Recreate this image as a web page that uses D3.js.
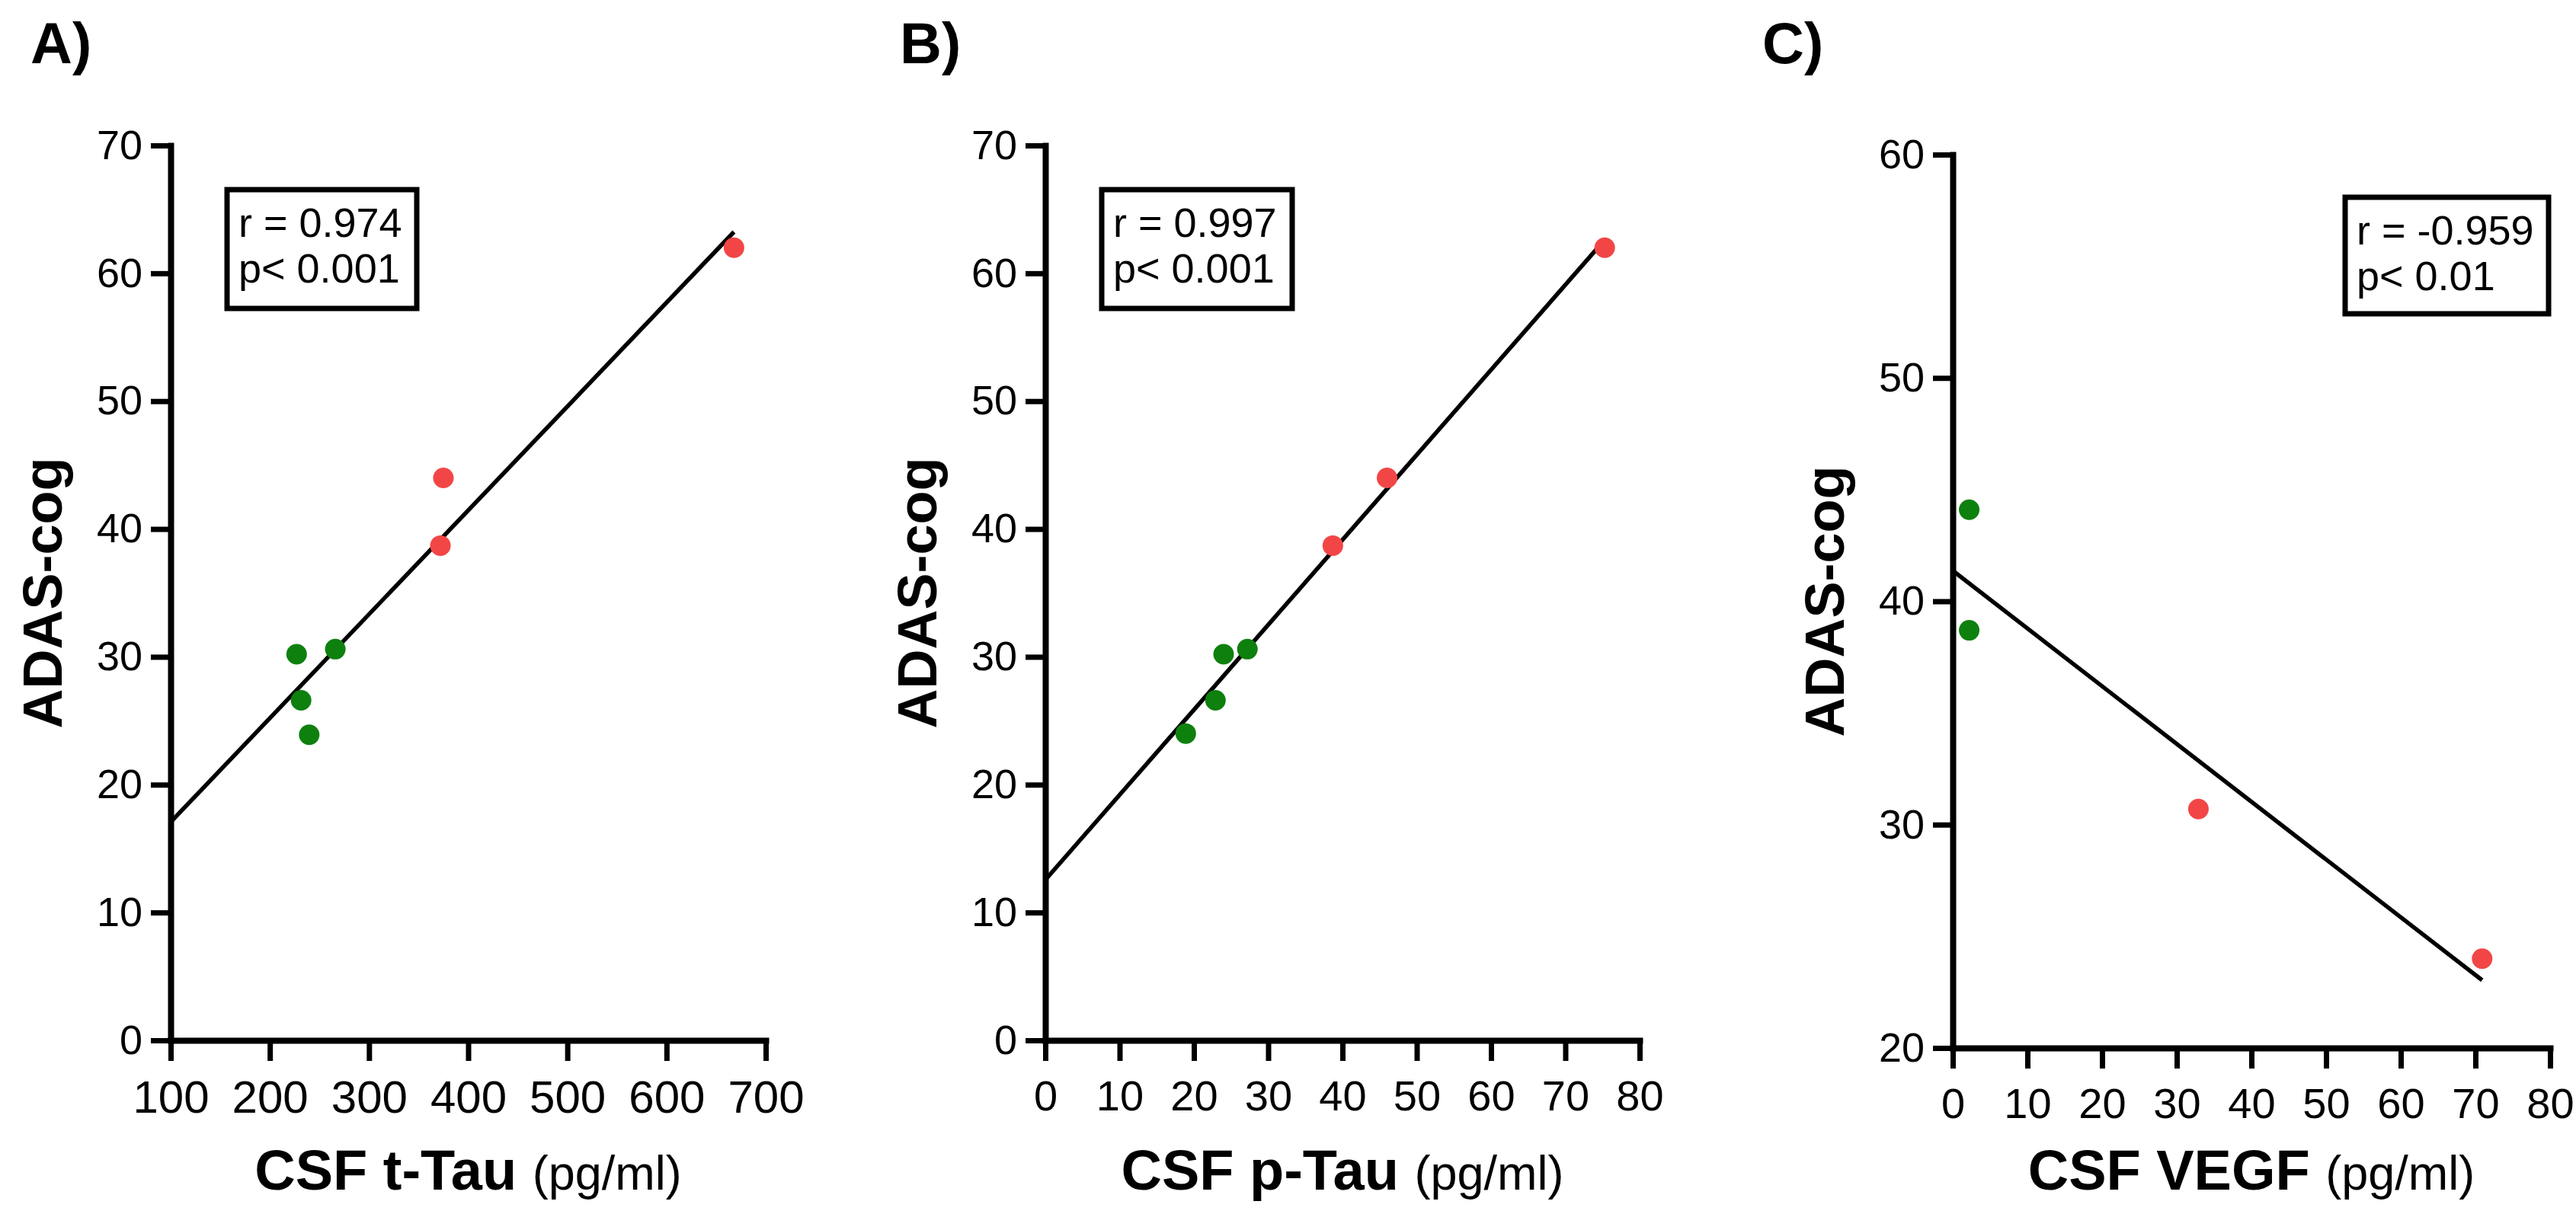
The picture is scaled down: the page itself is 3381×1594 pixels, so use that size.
<!doctype html>
<html>
  <head>
    <meta charset="utf-8">
    <title>ADAS-cog correlations</title>
    <script src="https://cdnjs.cloudflare.com/ajax/libs/d3/7.8.5/d3.min.js"></script>
    <style>
      html, body { margin: 0; padding: 0; background: #fff; }
      svg { display: block; font-family: 'Liberation Sans', Arial, sans-serif; }
    </style>
  </head>
  <body>
    <div id="chart"></div>

    <script>
      // labels
      const panelLetters = ['A)', 'B)', 'C)'];
      const xTitleBold = ['CSF t-Tau', 'CSF p-Tau', 'CSF VEGF'];
      const xTitleUnit = '(pg/ml)';
      const yTitle = 'ADAS-cog';
      const statsText = [
        ['r = 0.974', 'p< 0.001'],
        ['r = 0.997', 'p< 0.001'],
        ['r = -0.959', 'p< 0.01']
      ];

      // tick labels
      const xTicksTau = [100, 200, 300, 400, 500, 600, 700];
      const xTicksPg = [0, 10, 20, 30, 40, 50, 60, 70, 80];
      const yTicksAB = [0, 10, 20, 30, 40, 50, 60, 70];
      const yTicksC = [20, 30, 40, 50, 60];

      // A) CSF t-Tau vs ADAS-cog
      const tTauRed = [668, 375, 372];
      const tTauRedScore = [62, 44, 38.7];
      const tTauGreen = [227, 266, 231.5, 239.7];
      const tTauGreenScore = [30.2, 30.6, 26.6, 23.9];

      // B) CSF p-Tau vs ADAS-cog
      const pTauRed = [75.3, 46, 38.7];
      const pTauRedScore = [62, 44, 38.7];
      const pTauGreen = [24, 27.2, 22.9, 18.9];
      const pTauGreenScore = [30.2, 30.6, 26.6, 24];

      // C) CSF VEGF vs ADAS-cog
      const vegfGreen = [2.2, 2.2];
      const vegfGreenScore = [44.1, 38.7];
      const vegfRed = [32.9, 70.9];
      const vegfRedScore = [30.7, 24.0];

      const RED = '#f24646', GREEN = '#0e800e';

      // layout of the three panels (pixels)
      const panels = [
        { xDom: [100, 700], yDom: [0, 70], xTicks: xTicksTau, yTicks: yTicksAB,
          xr: [224, 1005], yr: [1366, 191], letterX: 40, xFont: 60,
          red: [tTauRed, tTauRedScore], green: [tTauGreen, tTauGreenScore],
          box: { x: 298, y: 249, w: 249, h: 156 } },
        { xDom: [0, 80], yDom: [0, 70], xTicks: xTicksPg, yTicks: yTicksAB,
          xr: [1372, 2152], yr: [1366, 191], letterX: 1181, xFont: 56,
          red: [pTauRed, pTauRedScore], green: [pTauGreen, pTauGreenScore],
          box: { x: 1446, y: 249, w: 250, h: 156 } },
        { xDom: [0, 80], yDom: [20, 60], xTicks: xTicksPg, yTicks: yTicksC,
          xr: [2563, 3347], yr: [1376, 203], letterX: 2313, xFont: 56,
          red: [vegfRed, vegfRedScore], green: [vegfGreen, vegfGreenScore],
          box: { x: 3078, y: 259, w: 267, h: 153 } }
      ];

      // least squares fit
      function regress(xs, ys) {
        const mx = d3.mean(xs), my = d3.mean(ys);
        const sxy = d3.sum(xs, (d, i) => (d - mx) * (ys[i] - my));
        const sxx = d3.sum(xs, d => (d - mx) * (d - mx));
        const slope = sxy / sxx;
        return { slope, intercept: my - slope * mx };
      }

      const svg = d3.select('#chart')
        .append('svg')
        .attr('width', 3381)
        .attr('height', 1594);

      panels.forEach((p, k) => {
        const g = svg.append('g');
        const x = d3.scaleLinear().domain(p.xDom).range(p.xr);
        const y = d3.scaleLinear().domain(p.yDom).range(p.yr);

        // panel letter
        g.append('text')
          .attr('x', p.letterX).attr('y', 83)
          .attr('font-size', 76).attr('font-weight', 'bold')
          .text(panelLetters[k]);

        // axes
        const xAxis = g.append('g')
          .attr('transform', `translate(0,${p.yr[0]})`)
          .call(d3.axisBottom(x).tickValues(p.xTicks).tickSize(27).tickSizeOuter(0).tickPadding(25));
        const yAxis = g.append('g')
          .attr('transform', `translate(${p.xr[0]},0)`)
          .call(d3.axisLeft(y).tickValues(p.yTicks).tickSize(26).tickSizeOuter(0).tickPadding(11));

        [xAxis, yAxis].forEach(a => {
          a.attr('font-family', null);
          a.select('.domain').attr('stroke', '#000').attr('stroke-width', 8).attr('stroke-linecap', 'square');
          a.selectAll('.tick line').attr('stroke', '#000').attr('stroke-width', 7);
          a.selectAll('.tick text').attr('fill', '#000');
        });
        xAxis.attr('font-size', p.xFont);
        yAxis.attr('font-size', 54);

        // axis titles
        const xt = g.append('text')
          .attr('x', (p.xr[0] + p.xr[1]) / 2)
          .attr('y', 1562)
          .attr('text-anchor', 'middle');
        xt.append('tspan').attr('font-size', 74).attr('font-weight', 'bold').text(xTitleBold[k] + ' ');
        xt.append('tspan').attr('font-size', 63).text(xTitleUnit);

        g.append('text')
          .attr('transform', `translate(${p.xr[0] - 143},${(p.yr[0] + p.yr[1]) / 2}) rotate(-90)`)
          .attr('text-anchor', 'middle')
          .attr('font-size', 72).attr('font-weight', 'bold')
          .text(yTitle);

        // regression line over all points
        const xs = p.red[0].concat(p.green[0]);
        const ys = p.red[1].concat(p.green[1]);
        const fit = regress(xs, ys);
        const x0 = p.xDom[0], x1 = d3.max(xs);
        g.append('line')
          .attr('x1', x(x0)).attr('y1', y(fit.intercept + fit.slope * x0))
          .attr('x2', x(x1)).attr('y2', y(fit.intercept + fit.slope * x1))
          .attr('stroke', '#000').attr('stroke-width', 5.5);

        // points
        const pts = p.red[0].map((v, i) => ({ x: v, y: p.red[1][i], c: RED }))
          .concat(p.green[0].map((v, i) => ({ x: v, y: p.green[1][i], c: GREEN })));
        g.selectAll('circle.pt')
          .data(pts)
          .join('circle')
          .attr('class', 'pt')
          .attr('cx', d => x(d.x))
          .attr('cy', d => y(d.y))
          .attr('r', 13.5)
          .attr('fill', d => d.c);

        // stats box
        g.append('rect')
          .attr('x', p.box.x).attr('y', p.box.y)
          .attr('width', p.box.w).attr('height', p.box.h)
          .attr('fill', 'none').attr('stroke', '#000').attr('stroke-width', 7);
        g.append('text')
          .attr('x', p.box.x + 15)
          .attr('y', p.box.y + 62)
          .attr('font-size', 54)
          .selectAll('tspan')
          .data(statsText[k])
          .join('tspan')
            .attr('x', p.box.x + 15)
            .attr('dy', (d, i) => i ? 60 : 0)
            .text(d => d);
      });
    </script>
  </body>
</html>
